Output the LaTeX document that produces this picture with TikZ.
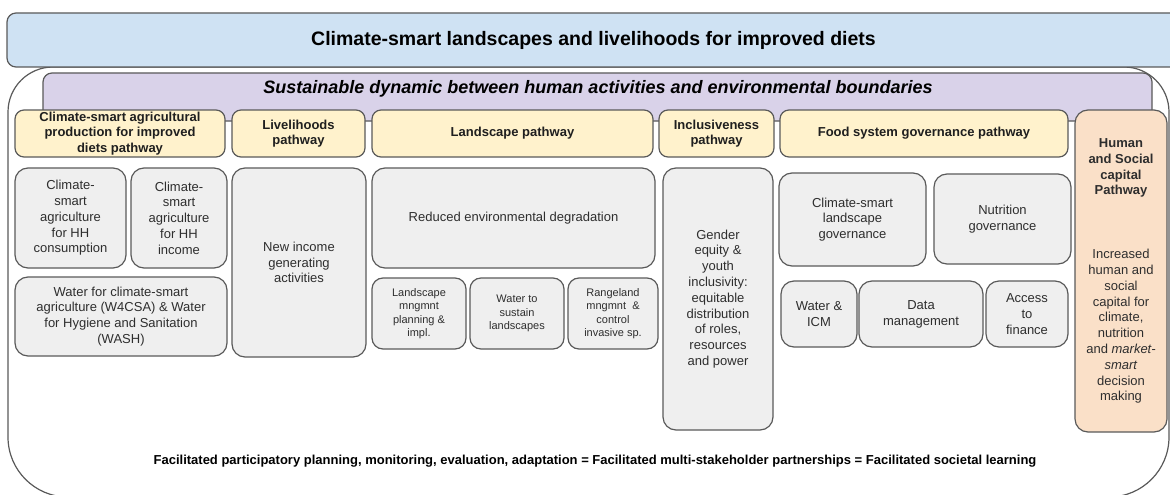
\documentclass[tikz,border=0pt]{standalone}
\usepackage{fontspec}
\setmainfont{Liberation Sans}
\definecolor{skyband}{HTML}{CFE2F3}
\definecolor{lilac}{HTML}{D9D2E9}
\definecolor{cream}{HTML}{FFF2CC}
\definecolor{peach}{HTML}{FAE0C8}
\definecolor{pale}{HTML}{EFEFEF}
\definecolor{edge}{HTML}{5A5A5A}
\def\pbox[#1](#2,#3)(#4,#5)#6#7{\node[#1, minimum width={#4-#2}, minimum height={#5-#3}] (#6) at ({(#2+#4)/2}, {(#3+#5)/2}) {#7};}
\tikzset{
	band/.style={draw=edge, line width=1.2pt, rounded corners=9, inner sep=0pt},
	graybox/.style={draw=edge, fill=pale, line width=1.2pt, rounded corners=13, inner sep=0pt, align=center, text=black!82, font=\fontsize{13}{15.8}\selectfont},
	smallbox/.style={graybox, rounded corners=11, font=\fontsize{11}{13.5}\selectfont},
	headbox/.style={graybox, fill=cream, rounded corners=9, text=black!88, font=\bfseries\fontsize{13}{15.5}\selectfont},
}

\begin{document}
\begin{tikzpicture}[x=1pt, y=-1pt]
			%%%%% START %%%%%
			\useasboundingbox (0,0) rectangle (1170,495);
			\fill[white] (0,0) rectangle (1170,495);
			
			% outer frame
			\draw[edge, line width=1.2pt, rounded corners=45] (600,67) -- (8,67) -- (8,300) [rounded corners=60] -- (8,497) -- (1169,497) -- (1169,300) [rounded corners=45] -- (1169,67) -- cycle;
			
			% top band and the band under it
			\pbox[band, fill=skyband](7,13)(1180,67){title}{\bfseries\fontsize{19.5}{22}\selectfont Climate-smart landscapes and livelihoods for improved diets};
			\draw[band, fill=lilac] (43,73) rectangle (1152,121);
			\node[font=\bfseries\itshape\fontsize{18}{21}\selectfont] (dynamic) at (598,89) {Sustainable dynamic between human activities and environmental boundaries};
			
			% pathway headers
			\pbox[headbox](15,110)(225,157){hcsa}{Climate-smart agricultural\\production for improved\\diets pathway};
			\pbox[headbox](232,110)(365,157){hliv}{Livelihoods\\pathway};
			\pbox[headbox](372,110)(653,157){hland}{Landscape pathway};
			\pbox[headbox](659,110)(774,157){hincl}{Inclusiveness\\pathway};
			\pbox[headbox](780,110)(1068,157){hfood}{Food system governance pathway};
			\pbox[graybox, fill=peach](1075,110)(1167,432){hcap}{\textbf{Human}\\\textbf{and Social}\\\textbf{capital}\\\textbf{Pathway}\\[48pt]Increased\\human and\\social\\capital for\\climate,\\nutrition\\and \textit{market-}\\\textit{smart}\\decision\\making};
			
			% agricultural production
			\pbox[graybox](15,168)(126,268){cons}{Climate-\\smart\\agriculture\\for HH\\consumption};
			\pbox[graybox](131,168)(227,268){inc}{Climate-\\smart\\agriculture\\for HH\\income};
			\pbox[graybox](15,277)(227,356){wash}{Water for climate-smart\\agriculture (W4CSA) \& Water\\for Hygiene and Sanitation\\(WASH)};
			
			% livelihoods
			\pbox[graybox](232,168)(366,357){newinc}{New income\\generating\\activities};
			
			% landscape
			\pbox[graybox](372,168)(655,268){degr}{Reduced environmental degradation};
			\pbox[smallbox](372,278)(466,349){lmp}{Landscape\\mngmnt\\planning \&\\impl.};
			\pbox[smallbox](470,278)(564,349){wsl}{Water to\\sustain\\landscapes};
			\pbox[smallbox](568,278)(658,349){range}{Rangeland\\mngmnt \ \&\\control\\invasive sp.};
			
			% inclusiveness
			\pbox[graybox](663,168)(773,430){gender}{Gender\\equity \&\\youth\\inclusivity:\\equitable\\distribution\\of roles,\\resources\\and power};
			
			% governance
			\pbox[graybox](779,173)(926,266){cslg}{Climate-smart\\landscape\\governance};
			\pbox[graybox](934,174)(1071,264){nutr}{Nutrition\\governance};
			\pbox[graybox](781,281)(857,347){icm}{Water \&\\ICM};
			\pbox[graybox](859,281)(983,347){data}{Data\\management};
			\pbox[graybox](986,281)(1068,347){fin}{Access\\to\\finance};
			
			\node[font=\bfseries\fontsize{13}{15}\selectfont] (learn) at (595,461) {Facilitated participatory planning, monitoring, evaluation, adaptation = Facilitated multi-stakeholder partnerships = Facilitated societal learning};
			
			%%%%% END %%%%%
\end{tikzpicture}
\end{document}
